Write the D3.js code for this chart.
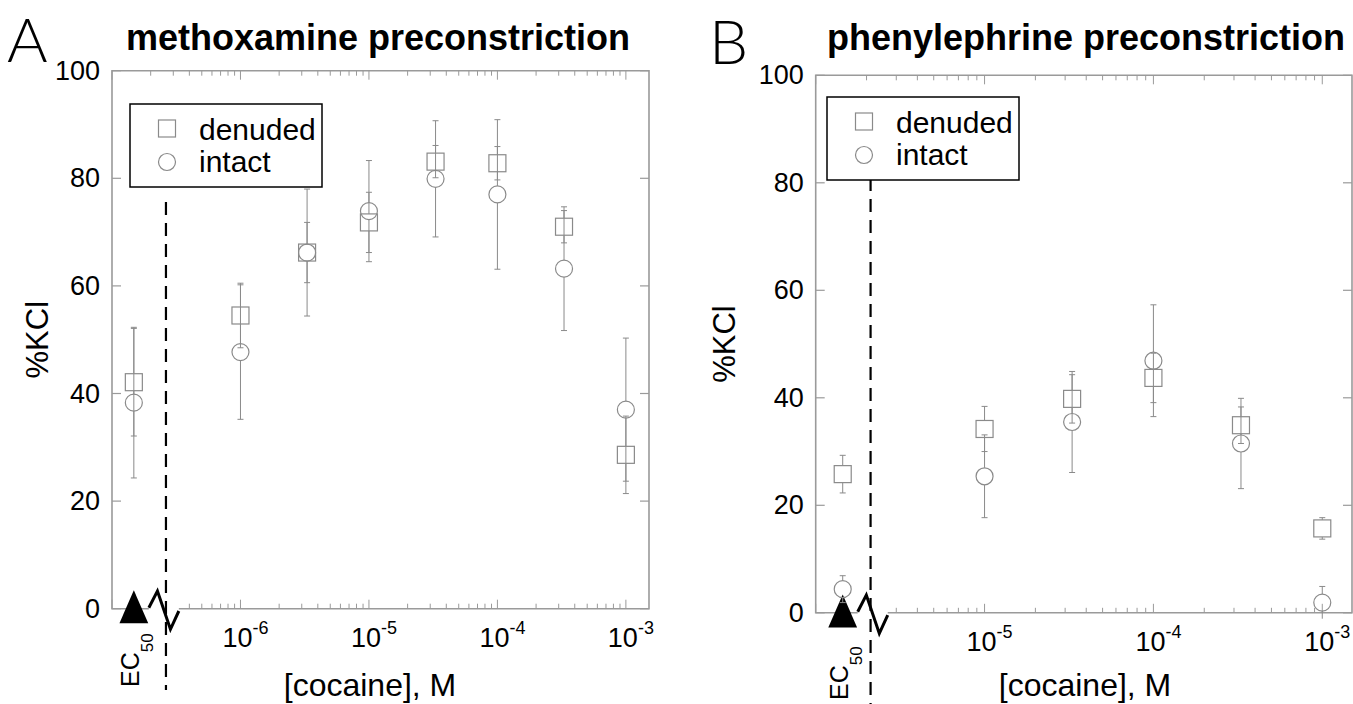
<!DOCTYPE html>
<html>
<head>
<meta charset="utf-8">
<script src="https://cdn.jsdelivr.net/npm/d3@7/dist/d3.min.js"></script>
<style>
  body { margin: 0; background: #fff; }
  text { font-family: "Liberation Sans", Arial, Helvetica, sans-serif; fill: #000; }
</style>
</head>
<body>
<svg id="chart" width="1353" height="704"></svg>
<script>
// ---- data ----
// panel A : methoxamine
var concA = ["EC50", 1e-6, 3.3e-6, 1e-5, 3.3e-5, 1e-4, 3.3e-4, 1e-3];
var denudedA = [42.1, 54.5, 66.2, 71.8, 83.1, 82.8, 71.0, 28.6];
var denudedErrA = [10.0, 6.0, 5.6, 5.6, 3.0, 3.1, 3.0, 7.2];
var intactA = [38.3, 47.7, 66.2, 73.9, 79.9, 77.0, 63.2, 37.0];
var intactErrA = [14.0, 12.5, 11.8, 9.4, 10.8, 13.9, 11.5, 13.3];
var tickExpA = [-6, -5, -4, -3];

// panel B : phenylephrine
var concB = ["EC50", 1e-5, 3.3e-5, 1e-4, 3.3e-4, 1e-3];
var denudedB = [25.8, 34.2, 39.8, 43.7, 34.9, 15.7];
var denudedErrB = [3.5, 4.2, 4.5, 4.6, 3.4, 2.0];
var intactB = [4.4, 25.4, 35.5, 46.9, 31.5, 1.9];
var intactErrB = [2.5, 7.7, 9.4, 10.4, 8.4, 3.0];
var tickExpB = [-5, -4, -3];

var yTicks = [0, 20, 40, 60, 80, 100];
var legendLabels = ["denuded", "intact"];

var svg = d3.select("#chart");
var grey = "#9a9a9a", markGrey = "#8a8a8a";

var panels = [
  {letter: "A", title: "methoxamine preconstriction", conc: concA,
   den: denudedA, denErr: denudedErrA, int: intactA, intErr: intactErrA, exps: tickExpA,
   left: 112, right: 649, top: 70.7, bottom: 608.7,
   xDomain: [1e-7, Math.pow(10, -2.82)], ec50At: Math.pow(10, -6.83), breakAt: Math.pow(10, -6.58),
   dashTop: 202, dashBottom: 690, ecText: 687,
   legend: [130, 104], letterPos: [7, 62], titleX: 378, yLabelX: 48, xLabelX: 370},
  {letter: "B", title: "phenylephrine preconstriction", conc: concB,
   den: denudedB, denErr: denudedErrB, int: intactB, intErr: intactErrB, exps: tickExpB,
   left: 815.7, right: 1352, top: 75.3, bottom: 612.8,
   xDomain: [1e-6, Math.pow(10, -2.824)], ec50At: Math.pow(10, -5.84), breakAt: Math.pow(10, -5.675),
   dashTop: 178, dashBottom: 704, ecText: 700,
   legend: [827, 97], letterPos: [709, 64], titleX: 1086, yLabelX: 735, xLabelX: 1085}
];

panels.forEach(function(p) {
  var x = d3.scaleLog().domain(p.xDomain).range([p.left, p.right]);
  var y = d3.scaleLinear().domain([0, 100]).range([p.bottom, p.top]);
  var g = svg.append("g");
  var xPos = function(c) { return c === "EC50" ? x(p.ec50At) : x(c); };
  var ecX = x(p.ec50At), y0 = y(0);
  var gapL = ecX + 15, gapR = ecX + 45;

  // frame
  g.append("path")
    .attr("d", "M" + gapL + "," + y0 + "H" + p.left + "V" + p.top + "H" + p.right + "V" + y0 + "H" + gapR)
    .attr("fill", "none").attr("stroke", grey).attr("stroke-width", 1.6);

  // y ticks, inward on both sides
  yTicks.forEach(function(t) {
    g.append("line").attr("x1", p.left).attr("x2", p.left + 9).attr("y1", y(t)).attr("y2", y(t))
      .attr("stroke", grey).attr("stroke-width", 1.2);
    g.append("line").attr("x1", p.right).attr("x2", p.right - 9).attr("y1", y(t)).attr("y2", y(t))
      .attr("stroke", grey).attr("stroke-width", 1.2);
    g.append("text").attr("x", p.left - 12).attr("y", y(t) + 9)
      .attr("text-anchor", "end").attr("font-size", 27).text(t);
  });

  // log ticks top and bottom
  var lo = Math.floor(Math.log10(p.xDomain[0])), hi = Math.ceil(Math.log10(p.xDomain[1]));
  for (var e = lo; e < hi; e++) {
    for (var m = 1; m < 10; m++) {
      var v = m * Math.pow(10, e);
      if (v < p.xDomain[0] || v > p.xDomain[1]) continue;
      var px = x(v), len = m === 1 ? 9 : 5;
      g.append("line").attr("x1", px).attr("x2", px).attr("y1", p.top).attr("y2", p.top + len)
        .attr("stroke", grey).attr("stroke-width", 1);
      if (px > gapL - 2 && px < gapR + 2) continue;
      g.append("line").attr("x1", px).attr("x2", px).attr("y1", y0).attr("y2", y0 - len)
        .attr("stroke", grey).attr("stroke-width", 1);
    }
  }

  // tick labels 10^n
  p.exps.forEach(function(ex) {
    var t = g.append("text").attr("x", x(Math.pow(10, ex)) + 5).attr("y", y0 + 38)
      .attr("text-anchor", "middle").attr("font-size", 27);
    t.append("tspan").text("10");
    t.append("tspan").attr("font-size", 18).attr("dy", -13).text("-" + Math.abs(ex));
  });

  // break: dashed line, zigzag, triangle, EC50 label
  var bx = x(p.breakAt);
  g.append("line").attr("x1", bx).attr("x2", bx).attr("y1", p.dashTop).attr("y2", p.dashBottom)
    .attr("stroke", "#000").attr("stroke-width", 2.2).attr("stroke-dasharray", "13,8");
  g.append("path")
    .attr("d", "M" + (ecX + 15) + "," + (y0 - 1) + "L" + (ecX + 23.6) + "," + (y0 - 17.7) +
               "L" + (ecX + 36.6) + "," + (y0 + 20.6) + "L" + (ecX + 45) + "," + (y0 + 2.3))
    .attr("fill", "none").attr("stroke", "#000").attr("stroke-width", 3);
  g.append("path")
    .attr("d", "M" + ecX + "," + (y0 - 18.4) + "L" + (ecX + 14.4) + "," + (y0 + 14.6) +
               "L" + (ecX - 14.4) + "," + (y0 + 14.6) + "Z")
    .attr("fill", "#000");
  var ec = g.append("text").attr("transform", "translate(" + (ecX + 5) + "," + p.ecText + ") rotate(-90)")
    .attr("font-size", 25);
  ec.append("tspan").text("EC");
  ec.append("tspan").attr("font-size", 17).attr("dy", 14).text("50");

  // error bars + markers
  var half = 8.5;
  function drawSeries(vals, errs, shape) {
    vals.forEach(function(v, i) {
      var cx = xPos(p.conc[i]), cy = y(v), yh = y(v + errs[i]), yl = y(Math.max(v - errs[i], -5));
      var eb = g.append("g").attr("stroke", markGrey).attr("stroke-width", 1);
      if (yh < cy - half) eb.append("line").attr("x1", cx).attr("x2", cx).attr("y1", yh).attr("y2", cy - half);
      if (yl > cy + half) eb.append("line").attr("x1", cx).attr("x2", cx).attr("y1", cy + half).attr("y2", yl);
      eb.append("line").attr("x1", cx - 3).attr("x2", cx + 3).attr("y1", yh).attr("y2", yh);
      if (yl <= y0) eb.append("line").attr("x1", cx - 3).attr("x2", cx + 3).attr("y1", yl).attr("y2", yl);
      if (shape === "square") {
        g.append("rect").attr("x", cx - half).attr("y", cy - half).attr("width", 2 * half).attr("height", 2 * half)
          .attr("fill", "none").attr("stroke", markGrey).attr("stroke-width", 1.2);
      } else {
        g.append("circle").attr("cx", cx).attr("cy", cy).attr("r", half)
          .attr("fill", "none").attr("stroke", markGrey).attr("stroke-width", 1.2);
      }
    });
  }
  drawSeries(p.int, p.intErr, "circle");
  drawSeries(p.den, p.denErr, "square");

  // legend
  var lg = g.append("g").attr("transform", "translate(" + p.legend[0] + "," + p.legend[1] + ")");
  lg.append("rect").attr("width", 192).attr("height", 83).attr("fill", "#fff")
    .attr("stroke", "#000").attr("stroke-width", 1.5);
  lg.append("rect").attr("x", 37 - half).attr("y", 24.5 - half).attr("width", 2 * half).attr("height", 2 * half)
    .attr("fill", "none").attr("stroke", markGrey).attr("stroke-width", 1.2);
  lg.append("circle").attr("cx", 37).attr("cy", 58).attr("r", half)
    .attr("fill", "none").attr("stroke", markGrey).attr("stroke-width", 1.2);
  lg.selectAll("text.lab").data(legendLabels).enter().append("text")
    .attr("x", 69).attr("y", function(d, i) { return i === 0 ? 36 : 67.5; })
    .attr("font-size", 30).text(function(d) { return d; });

  // titles and labels
  svg.append("text").attr("x", p.titleX).attr("y", 50).attr("text-anchor", "middle")
    .attr("font-size", 36).attr("font-weight", "bold").text(p.title);
  svg.append("text").attr("x", p.letterPos[0]).attr("y", p.letterPos[1])
    .style("font-family", "Lato, 'DejaVu Sans', sans-serif").attr("font-weight", 300)
    .attr("font-size", 62).text(p.letter);
  svg.append("text").attr("transform", "translate(" + p.yLabelX + "," + ((p.top + p.bottom) / 2) + ") rotate(-90)")
    .attr("text-anchor", "middle").attr("font-size", 31).text("%KCl");
  svg.append("text").attr("x", p.xLabelX).attr("y", 696).attr("text-anchor", "middle")
    .attr("font-size", 32).text("[cocaine], M");
});
</script>
</body>
</html>
